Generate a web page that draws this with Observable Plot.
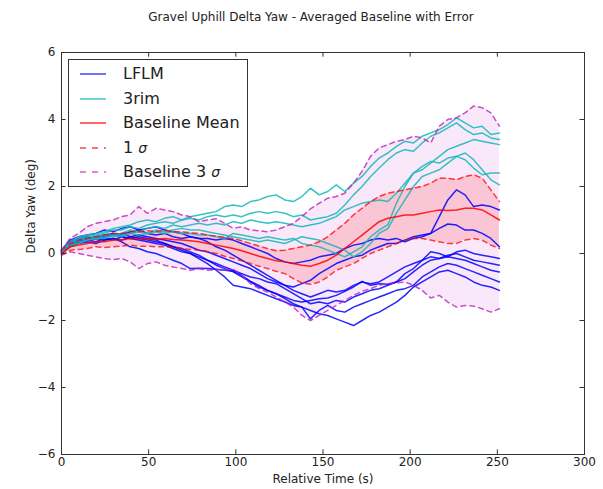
<!DOCTYPE html>
<html><head><meta charset="utf-8">
<script src="https://cdn.jsdelivr.net/npm/d3@7"></script>
<script src="https://cdn.jsdelivr.net/npm/@observablehq/plot@0.6"></script>
<style>
body{margin:0;background:#fff;font-family:"DejaVu Sans",sans-serif;}
#wrap{position:relative;width:603px;height:489px;}
#title{position:absolute;left:0;top:10px;width:622px;text-align:center;font-size:12px;color:#222;}
#legend{position:absolute;left:68px;top:59px;width:178px;height:126px;border:1px solid #333;background:#fff;}
.row{position:absolute;left:0;height:24px;width:178px;}
.row svg{position:absolute;left:11px;top:6px;}
.row span{position:absolute;left:54px;top:2px;font-size:16px;color:#222;white-space:nowrap;}
.row i{font-size:14px;}
</style></head>
<body>
<div id="wrap">
<div id="chart"></div>
<div id="title">Gravel Uphill Delta Yaw - Averaged Baseline with Error</div>
<div id="legend"></div>
</div>
<script>
// sample times (s)
const T = [0,4.9,9.9,14.8,19.7,24.6,29.6,34.5,39.4,44.3,49.3,54.2,59.1,64.0,69.0,73.9,78.8,83.7,88.7,93.6,98.5,103.4,108.4,113.3,118.2,123.1,128.1,133.0,137.9,142.8,147.8,152.7,157.6,162.5,167.5,172.4,177.3,182.2,187.2,192.1,197.0,201.9,206.9,211.8,216.7,221.6,226.6,231.5,236.4,241.3,246.3,251.2];
// baseline mean and sigma bands (deg)
const baseMean = [0.0,0.2,0.25,0.3,0.35,0.35,0.4,0.4,0.45,0.45, 0.45,0.42,0.45,0.42,0.4,0.38,0.35,0.3,0.25,0.2, 0.15,0.08,0.0,-0.08,-0.15,-0.22,-0.25,-0.3,-0.35,-0.38, -0.3,-0.2,-0.05,0.15,0.35,0.55,0.75,0.95,1.05,1.1, 1.15,1.15,1.2,1.25,1.3,1.28,1.3,1.35,1.35,1.3, 1.15,1.0];
const sig1Upper = [0.1,0.3,0.4,0.45,0.5,0.55,0.6,0.6,0.65,0.65, 0.68,0.65,0.7,0.65,0.65,0.62,0.6,0.55,0.52,0.48, 0.45,0.38,0.3,0.22,0.15,0.08,0.1,0.15,0.2,0.25, 0.35,0.5,0.7,0.9,1.15,1.35,1.55,1.7,1.8,1.85, 1.9,1.95,2.0,2.1,2.25,2.25,2.2,2.3,2.35,2.25, 1.9,1.55];
const sig1Lower = [-0.05,0.1,0.12,0.15,0.2,0.18,0.2,0.22,0.25,0.22, 0.22,0.2,0.2,0.18,0.15,0.12,0.1,0.05,0.0,-0.08, -0.15,-0.22,-0.3,-0.38,-0.45,-0.53,-0.6,-0.75,-0.88,-0.92, -0.85,-0.7,-0.5,-0.4,-0.3,-0.15,0.0,0.1,0.2,0.3, 0.4,0.45,0.45,0.4,0.35,0.3,0.3,0.4,0.45,0.4, 0.25,0.15];
const sig3Upper = [0.1,0.45,0.6,0.8,0.9,0.95,1.0,1.1,1.15,1.4, 1.2,1.35,1.3,1.25,1.15,1.1,0.95,1.0,1.04,0.9, 0.75,0.8,0.7,0.68,0.65,0.7,0.8,0.9,1.1,1.33, 1.5,1.65,1.7,1.8,2.1,2.45,2.9,3.15,3.25,3.35, 3.4,3.5,3.45,3.3,3.8,4.0,4.05,4.2,4.4,4.35, 4.2,3.8];
const sig3Lower = [-0.05,0.05,0.0,-0.05,-0.1,-0.15,-0.18,-0.15,-0.25,-0.45, -0.3,-0.25,-0.35,-0.4,-0.45,-0.5,-0.45,-0.5,-0.48,-0.5, -0.47,-0.65,-0.9,-1.05,-1.15,-1.3,-1.45,-1.6,-1.85,-2.0, -1.85,-1.7,-1.55,-1.4,-1.25,-1.13,-1.05,-0.95,-0.9,-0.88, -0.85,-0.95,-1.1,-1.33,-1.25,-1.45,-1.6,-1.55,-1.57,-1.65, -1.75,-1.65];
// LFLM runs
const lflm1 = [0.05,0.3,0.4,0.45,0.5,0.55,0.6,0.55,0.65,0.7, 0.6,0.55,0.6,0.5,0.45,0.5,0.45,0.45,0.4,0.45, 0.4,0.3,0.2,0.1,0.0,-0.15,-0.25,-0.3,-0.25,-0.2, -0.1,-0.05,0.0,0.15,0.25,0.3,0.4,0.45,0.4,0.45, 0.35,0.45,0.5,0.6,1.1,1.6,1.9,1.75,1.4,1.45, 1.4,1.3];
const lflm2 = [0.05,0.25,0.35,0.4,0.45,0.5,0.55,0.6,0.5,0.55, 0.5,0.45,0.4,0.35,0.3,0.2,0.1,0.05,-0.05,-0.15, -0.25,-0.35,-0.45,-0.6,-0.75,-0.85,-0.95,-1.0,-0.9,-0.8, -0.6,-0.45,-0.3,-0.2,-0.1,-0.05,0.1,0.2,0.3,0.3, 0.4,0.5,0.55,0.6,0.75,0.88,0.85,0.7,0.7,0.6, 0.45,0.2];
const lflm3 = [0.1,0.4,0.5,0.55,0.6,0.7,0.65,0.75,0.8,0.7, 0.75,0.8,0.7,0.65,0.6,0.5,0.45,0.35,0.2,0.1, -0.05,-0.2,-0.35,-0.5,-0.65,-0.8,-0.95,-1.1,-1.2,-1.3, -1.2,-1.1,-1.15,-1.1,-0.95,-0.85,-0.9,-0.85,-0.7,-0.55, -0.4,-0.3,-0.2,0.05,0.0,-0.1,0.05,0.1,0.0,-0.05, -0.1,-0.15];
const lflm4 = [0.0,0.3,0.35,0.4,0.45,0.4,0.45,0.35,0.2,0.15, 0.05,0.0,-0.1,-0.2,-0.3,-0.45,-0.44,-0.45,-0.47,-0.5, -0.53,-0.65,-0.83,-0.95,-1.1,-1.2,-1.3,-1.4,-1.45,-1.4, -1.35,-1.33,-1.25,-1.13,-1.0,-0.83,-0.95,-0.9,-0.92,-0.85, -0.6,-0.45,-0.2,-0.1,-0.15,-0.05,0.0,-0.1,-0.2,-0.25, -0.3,-0.35];
const lflm5 = [0.05,0.35,0.45,0.5,0.45,0.5,0.55,0.5,0.45,0.5, 0.45,0.4,0.3,0.2,0.15,0.05,-0.05,-0.2,-0.3,-0.4, -0.5,-0.6,-0.7,-0.75,-0.85,-0.9,-1.05,-1.2,-1.35,-1.5, -1.45,-1.5,-1.4,-1.45,-1.3,-1.2,-1.1,-1.05,-0.95,-0.85, -0.75,-0.55,-0.35,-0.2,-0.15,-0.1,-0.15,-0.2,-0.3,-0.4, -0.5,-0.55];
const lflm6 = [0.1,0.3,0.35,0.4,0.35,0.45,0.4,0.5,0.45,0.4, 0.35,0.3,0.25,0.15,0.05,0.0,-0.1,-0.2,-0.35,-0.45, -0.55,-0.7,-0.85,-1.0,-1.1,-1.2,-1.35,-1.5,-1.6,-1.95, -1.7,-1.55,-1.7,-1.75,-1.6,-1.5,-1.4,-1.3,-1.2,-1.1, -1.05,-0.95,-0.7,-0.55,-0.4,-0.3,-0.35,-0.45,-0.55,-0.65, -0.75,-0.85];
const lflm7 = [0.0,0.2,0.3,0.35,0.3,0.4,0.45,0.4,0.5,0.45, 0.4,0.35,0.3,0.2,0.1,0.0,-0.15,-0.3,-0.5,-0.7, -0.95,-1.0,-1.05,-1.15,-1.25,-1.35,-1.45,-1.55,-1.6,-1.7, -1.8,-1.85,-1.95,-2.05,-2.15,-2.0,-1.85,-1.75,-1.6,-1.45, -1.25,-1.0,-0.85,-0.7,-0.55,-0.5,-0.6,-0.7,-0.85,-0.95, -1.0,-1.1];
// 3rim runs
const rim1 = [0.1,0.35,0.5,0.55,0.6,0.65,0.75,0.8,0.85,0.95, 1.0,0.95,1.05,1.1,1.0,1.1,1.15,1.2,1.25,1.4, 1.45,1.4,1.55,1.6,1.7,1.75,1.6,1.55,1.7,1.95, 1.75,1.85,2.05,1.85,2.1,2.3,2.6,2.85,3.0,3.2, 3.35,3.3,3.5,3.6,3.7,3.85,4.05,3.9,3.75,3.8, 3.55,3.6];
const rim2 = [0.05,0.3,0.45,0.5,0.55,0.6,0.7,0.7,0.8,0.75, 0.85,0.9,0.95,0.9,1.0,1.05,1.0,1.1,1.15,1.1, 1.15,1.1,1.2,1.25,1.2,1.25,1.2,1.1,1.15,1.0, 1.05,1.1,1.2,1.45,1.75,2.0,2.3,2.55,2.8,3.0, 3.1,3.05,3.3,3.5,3.6,3.75,3.9,3.7,3.55,3.6, 3.45,3.4];
const rim3 = [0.1,0.3,0.4,0.45,0.5,0.55,0.55,0.6,0.7,0.65, 0.75,0.8,0.75,0.85,0.8,0.85,0.9,0.85,0.9,0.85, 0.95,0.9,1.0,0.95,0.9,0.95,0.9,0.85,0.8,0.85, 0.9,1.0,1.1,1.3,1.4,1.5,1.55,1.6,1.55,1.8, 2.1,2.4,2.6,2.75,2.7,2.85,2.9,2.8,2.55,2.35, 2.4,2.4];
const rim4 = [0.05,0.25,0.35,0.4,0.45,0.5,0.5,0.55,0.6,0.55, 0.6,0.65,0.6,0.65,0.6,0.6,0.55,0.55,0.5,0.45, 0.6,0.55,0.5,0.45,0.5,0.45,0.4,0.45,0.3,0.25, 0.2,0.1,0.0,-0.1,0.05,0.2,0.5,0.7,0.86,1.5, 2.0,2.4,2.5,2.7,2.9,3.1,3.2,3.3,3.4,3.35, 3.3,3.25];
const rim5 = [0.0,0.2,0.3,0.4,0.45,0.45,0.55,0.5,0.6,0.65, 0.6,0.7,0.65,0.7,0.75,0.7,0.7,0.65,0.6,0.55, 0.5,0.45,0.4,0.35,0.4,0.35,0.3,0.4,0.5,0.45, 0.4,0.3,0.2,0.1,-0.1,0.05,0.3,0.6,0.74,1.2, 1.6,2.0,2.3,2.4,2.5,2.7,2.9,3.0,2.8,2.5, 2.2,2.05];
// tick values
const xTicks = [0,50,100,150,200,250,300];
const yTicks = [-6,-4,-2,0,2,4,6];
const legendLabels = ["LFLM","3rim","Baseline Mean","1 σ","Baseline 3 σ"];

const BLUE="#0000ff", CYAN="#12b8b8", RED="#ff0000", MAG="#c020c0";

const base = T.map((t,i)=>({t, m:baseMean[i], u1:sig1Upper[i], l1:sig1Lower[i], u3:sig3Upper[i], l3:sig3Lower[i]}));
const runsL = [], runsR = [];
[lflm1,lflm2,lflm3,lflm4,lflm5,lflm6,lflm7].forEach((a,k)=>a.forEach((v,i)=>runsL.push({t:T[i], v, id:k})));
[rim1,rim2,rim3,rim4,rim5].forEach((a,k)=>a.forEach((v,i)=>runsR.push({t:T[i], v, id:k})));

const chart = Plot.plot({
  width:603, height:489,
  marginTop:52, marginBottom:35, marginLeft:61, marginRight:19,
  x:{domain:[0,300]}, y:{domain:[-6,6]},
  style:{fontFamily:"DejaVu Sans, sans-serif", fontSize:"12px", color:"#222", background:"transparent"},
  marks:[
    Plot.areaY(base,{x:"t", y1:"l3", y2:"u3", fill:MAG, fillOpacity:0.1}),
    Plot.areaY(base,{x:"t", y1:"l1", y2:"u1", fill:RED, fillOpacity:0.15}),
    Plot.line(runsL,{x:"t", y:"v", z:"id", stroke:BLUE, strokeWidth:1.5, strokeOpacity:0.85}),
    Plot.line(runsR,{x:"t", y:"v", z:"id", stroke:CYAN, strokeWidth:1.5, strokeOpacity:0.85}),
    Plot.line(base,{x:"t", y:"m", stroke:RED, strokeWidth:1.5, strokeOpacity:0.85}),
    Plot.line(base,{x:"t", y:"u1", stroke:RED, strokeWidth:1.5, strokeOpacity:0.75, strokeDasharray:"5,4"}),
    Plot.line(base,{x:"t", y:"l1", stroke:RED, strokeWidth:1.5, strokeOpacity:0.75, strokeDasharray:"5,4"}),
    Plot.line(base,{x:"t", y:"u3", stroke:MAG, strokeWidth:1.5, strokeOpacity:0.8, strokeDasharray:"5,4"}),
    Plot.line(base,{x:"t", y:"l3", stroke:MAG, strokeWidth:1.5, strokeOpacity:0.8, strokeDasharray:"5,4"}),
    Plot.frame({stroke:"#333"}),
    Plot.ruleX(xTicks,{x:d=>d, y1:-6, y2:-5.86, stroke:"#333"}),
    Plot.ruleX(xTicks,{x:d=>d, y1:6, y2:5.86, stroke:"#333"}),
    Plot.ruleY(yTicks,{y:d=>d, x1:0, x2:2.6, stroke:"#333"}),
    Plot.ruleY(yTicks,{y:d=>d, x1:300, x2:297.4, stroke:"#333"}),
    Plot.axisX({ticks:xTicks, tickSize:0, tickPadding:3, label:null}),
    Plot.axisY({ticks:yTicks, tickSize:0, tickPadding:6, label:null}),
    Plot.text(["Relative Time (s)"],{frameAnchor:"bottom", dy:28, text:d=>d, fontSize:12}),
    Plot.text(["Delta Yaw (deg)"],{frameAnchor:"left", dx:-30, rotate:-90, text:d=>d, fontSize:12})
  ]
});
document.getElementById("chart").appendChild(chart);

// legend
const legendStyles = [
  {c:BLUE, o:0.55, dash:null},
  {c:CYAN, o:0.6, dash:null},
  {c:RED, o:0.6, dash:null},
  {c:RED, o:0.55, dash:"6,6"},
  {c:MAG, o:0.55, dash:"6,6"}
];
const leg = document.getElementById("legend");
legendLabels.forEach((lab,i)=>{
  const r = document.createElement("div");
  r.className="row";
  r.style.top = (2 + 24.6*i) + "px";
  const st = legendStyles[i];
  r.innerHTML = `<svg width="28" height="12"><line x1="0" y1="6" x2="26" y2="6" stroke="${st.c}" stroke-opacity="${st.o}" stroke-width="2" ${st.dash?`stroke-dasharray="${st.dash}"`:""}/></svg>`;
  const s = document.createElement("span");
  const parts = lab.split("σ");
  s.textContent = parts[0];
  if (parts.length>1){ const it=document.createElement("i"); it.textContent="σ"; s.appendChild(it); }
  r.appendChild(s);
  leg.appendChild(r);
});
</script>
</body></html>
